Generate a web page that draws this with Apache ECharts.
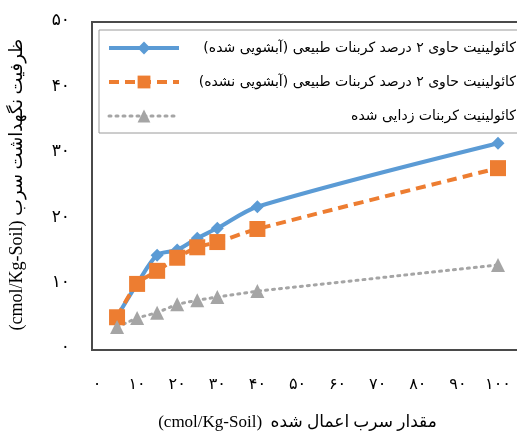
<!DOCTYPE html>
<html>
<head>
<meta charset="utf-8">
<script src="https://cdn.jsdelivr.net/npm/echarts@6/dist/echarts.min.js"></script>
<style>
  html, body { margin: 0; padding: 0; background: #fff; }
  #chart { width: 517px; height: 437px; }
</style>
</head>
<body>
<div id="chart"></div>
<script>
// applied Pb (cmol/Kg-Soil)
const xValues = [5, 10, 15, 20, 25, 30, 40, 100];
// retention capacity
const washed = [4.8, 9.8, 14.2, 15.0, 16.8, 18.3, 21.6, 31.3];
const unwashed = [4.7, 9.8, 11.8, 13.8, 15.4, 16.2, 18.2, 27.5];
const decarbonated = [3.2, 4.6, 5.4, 6.7, 7.3, 7.8, 8.7, 12.7];

const RLM = '\u200F';
const seriesNames = [
  RLM + 'کائولینیت حاوی ۲ درصد کربنات طبیعی (آبشویی شده)' + RLM,
  RLM + 'کائولینیت حاوی ۲ درصد کربنات طبیعی (آبشویی نشده)' + RLM,
  RLM + 'کائولینیت کربنات زدایی شده' + RLM
];
const xName = '(cmol/Kg-Soil)  مقدار سرب اعمال شده';
const yName = '(cmol/Kg-Soil) ظرفیت نگهداشت سرب';

const faDigits = '۰۱۲۳۴۵۶۷۸۹';
function toFa(v) {
  return String(v).replace(/\d/g, d => faDigits[d]);
}

const font = "'Liberation Serif', 'DejaVu Sans', serif";

const pair = arr => xValues.map((x, i) => [x, arr[i]]);

const chart = echarts.init(document.getElementById('chart'));
chart.setOption({
  animation: false,
  grid: { left: 93, right: 19, top: 21, bottom: 89 },
  graphic: [{
    type: 'rect',
    shape: { x: 92, y: 22, width: 440, height: 328 },
    style: { fill: null, stroke: '#4a4a4a', lineWidth: 2 },
    z: 0
  }],
  legend: {
    orient: 'vertical',
    left: 99,
    top: 30,
    padding: [11, 2, 10, 8],
    itemGap: 20,
    itemWidth: 70,
    itemHeight: 16,
    borderColor: '#9a9a9a',
    borderWidth: 1,
    backgroundColor: '#fff',
    data: [
      { name: seriesNames[0], lineStyle: { width: 4 } },
      { name: seriesNames[1], lineStyle: { width: 4 } },
      { name: seriesNames[2], lineStyle: { width: 3 } }
    ],
    formatter: name => '{t|' + name + '}',
    textStyle: {
      rich: {
        t: { width: 332, align: 'right', fontSize: 14, fontFamily: 'DejaVu Sans', color: '#000' }
      }
    }
  },
  xAxis: {
    type: 'value',
    min: 0,
    max: 100,
    interval: 10,
    name: xName,
    nameLocation: 'middle',
    nameGap: 66,
    nameTextStyle: { fontSize: 17, fontFamily: font, color: '#000' },
    axisLine: { show: false },
    axisTick: { show: false },
    splitLine: { show: false },
    axisLabel: { margin: 29, fontSize: 16, fontFamily: font, color: '#000', formatter: v => toFa(v) }
  },
  yAxis: {
    type: 'value',
    min: 0,
    max: 50,
    interval: 10,
    name: yName,
    nameLocation: 'middle',
    nameGap: 71,
    nameRotate: 90,
    nameTextStyle: { fontSize: 18, fontFamily: font, color: '#000' },
    axisLine: { show: false },
    axisTick: { show: false },
    splitLine: { show: false },
    axisLabel: { margin: 27, fontSize: 17, fontFamily: font, color: '#000', formatter: v => toFa(v) }
  },
  series: [
    {
      name: seriesNames[0],
      type: 'line',
      data: pair(washed),
      smooth: 0.3,
      symbol: 'diamond',
      symbolSize: 13,
      lineStyle: { color: '#5B9BD5', width: 4 },
      itemStyle: { color: '#5B9BD5' }
    },
    {
      name: seriesNames[1],
      type: 'line',
      data: pair(unwashed),
      smooth: 0.3,
      symbol: 'rect',
      symbolSize: 16,
      lineStyle: { color: '#ED7D31', width: 4, type: [10, 6] },
      itemStyle: { color: '#ED7D31' }
    },
    {
      name: seriesNames[2],
      type: 'line',
      data: pair(decarbonated),
      symbol: 'triangle',
      symbolSize: 14,
      lineStyle: { color: '#A5A5A5', width: 3, type: [2, 5], cap: 'round' },
      itemStyle: { color: '#A5A5A5' }
    }
  ]
});
</script>
</body>
</html>
